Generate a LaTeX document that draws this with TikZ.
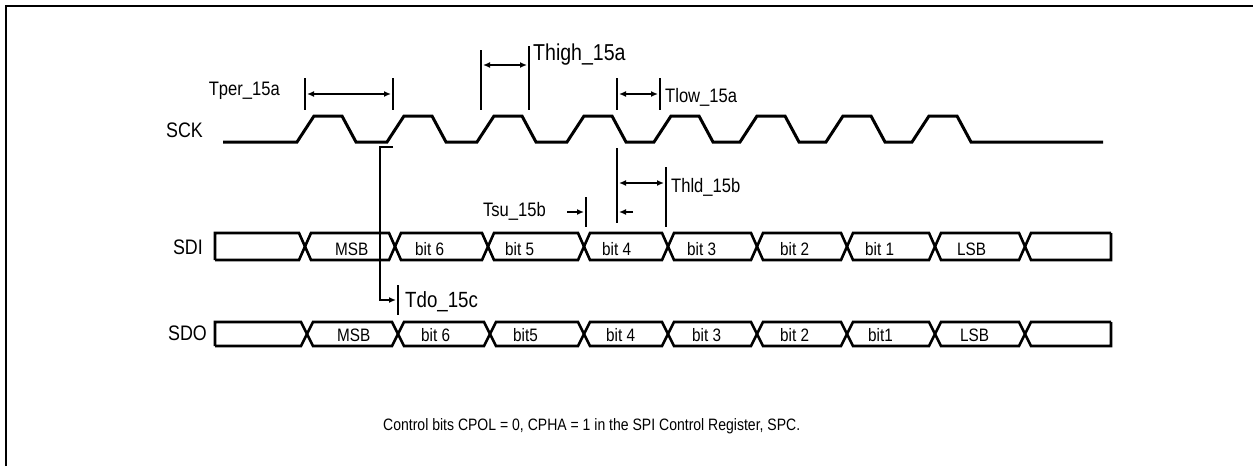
\documentclass[tikz,border=0pt]{standalone}
\usepackage{fontspec}
\setmainfont{Liberation Sans}
\newfontfamily\nf[FakeStretch=0.85]{Liberation Sans}
\usetikzlibrary{arrows.meta}
\begin{document}
\begin{tikzpicture}[x=1pt,y=-1pt,
  sig/.style={line width=3pt, line join=miter},
  bus/.style={line width=2.6pt, line join=miter},
  bar/.style={line width=2.4pt},
  tip/.tip={Latex[length=7pt,width=6pt]},
  dimboth/.style={line width=2pt, tip-tip, shorten <=2pt, shorten >=2pt},
  dimto/.style={line width=2pt, -tip, shorten >=2pt},
  rowlbl/.style={inner sep=0pt, font=\nf\fontsize{21}{21}\selectfont},
  tlbl/.style={inner sep=0pt, font=\nf\fontsize{19.5}{19.5}\selectfont},
  cell/.style={inner sep=0pt, anchor=base west, font=\nf\fontsize{18}{18}\selectfont},
  note/.style={inner sep=0pt, font=\nf\fontsize{16.5}{16.5}\selectfont}]
\useasboundingbox (0,0) rectangle (1253,466);
\fill[white] (0,0) rectangle (1253,466);
% frame
\draw[line width=2.4pt] (6,466) -- (6,6) -- (1253,6);

% row labels
\node[rowlbl, anchor=base east] (sck) at (203,137) {SCK};
\node[rowlbl, anchor=base east] (sdi) at (203,254) {SDI};
\node[rowlbl, anchor=base east] (sdo) at (207,340) {SDO};

% clock
\draw[sig] (223,142)
  \foreach \r in {297,387,477,567,654,740,826,912} { -- (\r,142) -- (\r+17,116) -- (\r+45,116) -- (\r+59,142) }
  -- (1103,142);

% SDI bus
\draw[bus] (215,260) -- (215,233)
  \foreach \c [count=\i, evaluate=\i as \p using {ifthenelse(mod(\i,2)==1,233,260)}, evaluate=\i as \q using {ifthenelse(mod(\i,2)==1,260,233)}] in {305,395,488,584,668,757,847,935,1025} { -- (\c-6,\p) -- (\c+6,\q) }
  -- (1111,260) -- (1111,233);
\draw[bus] (215,260)
  \foreach \c [count=\i, evaluate=\i as \p using {ifthenelse(mod(\i,2)==1,260,233)}, evaluate=\i as \q using {ifthenelse(mod(\i,2)==1,233,260)}] in {305,395,488,584,668,757,847,935,1025} { -- (\c-6,\p) -- (\c+6,\q) }
  -- (1111,233);
% SDO bus
\draw[bus] (215,346) -- (215,322)
  \foreach \c [count=\i, evaluate=\i as \p using {ifthenelse(mod(\i,2)==1,322,346)}, evaluate=\i as \q using {ifthenelse(mod(\i,2)==1,346,322)}] in {307,398,490,584,668,757,847,935,1025} { -- (\c-6,\p) -- (\c+6,\q) }
  -- (1111,346) -- (1111,322);
\draw[bus] (215,346)
  \foreach \c [count=\i, evaluate=\i as \p using {ifthenelse(mod(\i,2)==1,346,322)}, evaluate=\i as \q using {ifthenelse(mod(\i,2)==1,322,346)}] in {307,398,490,584,668,757,847,935,1025} { -- (\c-6,\p) -- (\c+6,\q) }
  -- (1111,322);

% SDI cell labels
\node[cell] (i7) at (335,255) {MSB};
\node[cell] (i6) at (415,255) {bit 6};
\node[cell] (i5) at (505,255) {bit 5};
\node[cell] (i4) at (602,255) {bit 4};
\node[cell] (i3) at (687,255) {bit 3};
\node[cell] (i2) at (780,255) {bit 2};
\node[cell] (i1) at (865,255) {bit 1};
\node[cell] (i0) at (957,255) {LSB};
% SDO cell labels
\node[cell] (o7) at (337,341) {MSB};
\node[cell] (o6) at (421,341) {bit 6};
\node[cell] (o5) at (513,341) {bit5};
\node[cell] (o4) at (606,341) {bit 4};
\node[cell] (o3) at (692,341) {bit 3};
\node[cell] (o2) at (780,341) {bit 2};
\node[cell] (o1) at (868,341) {bit1};
\node[cell] (o0) at (960,341) {LSB};

% Tper
\draw[bar] (305,78) -- (305,110);
\draw[bar] (393,78) -- (393,110);
\coordinate (tpA) at (305,94);
\coordinate (tpB) at (393,94);
\draw[dimboth] (tpA) -- (tpB);
\node[tlbl, anchor=base east] (tper) at (280,95) {Tper\_15a};

% Thigh
\draw[bar] (481,50) -- (481,110);
\draw[bar] (529,46) -- (529,110);
\coordinate (thA) at (481,65);
\coordinate (thB) at (529,65);
\draw[dimboth] (thA) -- (thB);
\node[inner sep=0pt, anchor=base west, font=\nf\fontsize{23}{23}\selectfont] (thigh) at (533,60) {Thigh\_15a};

% Tlow
\draw[bar] (617,78) -- (617,110);
\draw[bar] (660,78) -- (660,110);
\coordinate (tlA) at (617,94);
\coordinate (tlB) at (660,94);
\draw[dimboth] (tlA) -- (tlB);
\node[tlbl, anchor=base west] (tlow) at (665,102) {Tlow\_15a};

% Thld
\draw[bar] (617,148) -- (617,223);
\draw[bar] (666,167) -- (666,227);
\coordinate (hdA) at (617,183);
\coordinate (hdB) at (666,183);
\draw[dimboth] (hdA) -- (hdB);
\coordinate (hsA) at (617,212);
\coordinate (hsB) at (633,212);
\draw[dimto] (hsB) -- (hsA);
\node[tlbl, anchor=base west] (thld) at (671,192) {Thld\_15b};

% Tsu
\draw[bar] (586,197) -- (586,227);
\coordinate (suA) at (567,212);
\coordinate (suB) at (586,212);
\draw[dimto] (suA) -- (suB);
\node[tlbl, anchor=base east] (tsu) at (546,216) {Tsu\_15b};

% Tdo
\coordinate (doS) at (393,147);
\coordinate (doC) at (380,147);
\coordinate (doD) at (380,300);
\coordinate (doE) at (398,300);
\draw[bar, -tip, shorten >=2pt] (doS) -- (doC) -- (doD) -- (doE);
\draw[bar] (398,285) -- (398,315);
\node[inner sep=0pt, anchor=base west, font=\nf\fontsize{22}{22}\selectfont] (tdo) at (405,307) {Tdo\_15c};

% note
\node[note, anchor=base west] (nt) at (383,430) {Control bits CPOL = 0, CPHA = 1 in the SPI Control Register, SPC.};
\end{tikzpicture}
\end{document}
